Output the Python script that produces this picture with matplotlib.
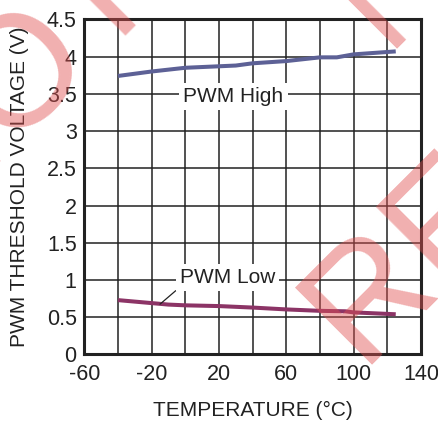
import matplotlib
matplotlib.use('Agg')
import matplotlib.pyplot as plt

plt.rcParams['font.family'] = ['Liberation Sans', 'DejaVu Sans']
plt.rcParams['axes.unicode_minus'] = False

# data
temp_high = [-40, -20, 0, 20, 30, 40, 60, 80, 90, 100, 125]
pwm_high = [3.74, 3.80, 3.85, 3.87, 3.88, 3.91, 3.94, 3.99, 3.99, 4.03, 4.07]
temp_low = [-40, -20, -10, 0, 20, 40, 60, 80, 95, 100, 125]
pwm_low = [0.73, 0.69, 0.67, 0.66, 0.65, 0.63, 0.605, 0.586, 0.58, 0.565, 0.54]

x_grid = list(range(-60, 141, 20))
x_labels = ['-60', '', '-20', '', '20', '', '60', '', '100', '', '140']
y_grid = [0, 0.5, 1, 1.5, 2, 2.5, 3, 3.5, 4, 4.5]

fig = plt.figure(figsize=(4.39, 4.21), dpi=100)
ax = fig.add_axes([0.192, 0.158, 0.767, 0.796])

ax.plot(temp_high, pwm_high, color='#5d6196', lw=2.9, solid_capstyle='butt', zorder=3)
ax.plot(temp_low, pwm_low, color='#8c3466', lw=2.9, solid_capstyle='butt', zorder=3)

ax.set_xlim(-60, 140)
ax.set_ylim(0, 4.5)
ax.set_xticks(x_grid)
ax.set_xticklabels(x_labels)
ax.set_yticks(y_grid)
ax.set_yticklabels(['%g' % v for v in y_grid])
ax.tick_params(length=0, labelsize=15.5, colors='#222222')
ax.tick_params(axis='x', pad=7)
ax.tick_params(axis='y', pad=5.5)
ax.grid(True, color='#222222', lw=1.1)
ax.set_axisbelow(True)
for s in ax.spines.values():
    s.set_linewidth(2.2)
    s.set_color('#222222')

ax.set_xlabel('TEMPERATURE (°C)', fontsize=15, color='#222222')
ax.set_ylabel('PWM THRESHOLD VOLTAGE (V)', fontsize=15, color='#222222')
ax.xaxis.set_label_coords(0.5, -0.139)
ax.yaxis.set_label_coords(-0.165, 0.5)

box = dict(facecolor='white', edgecolor='none', pad=3)
ax.text(28.6, 3.39, 'PWM High', fontsize=15, ha='center', va='baseline',
        color='#222222', bbox=box, zorder=4)
ax.annotate('PWM Low', xy=(-15, 0.676), xytext=(25.1, 0.958),
            textcoords='data', fontsize=15, ha='center', va='baseline',
            color='#222222', bbox=box, zorder=4,
            arrowprops=dict(arrowstyle='-', color='#222222', lw=0.9,
                            relpos=(0.0, 0.0), shrinkA=0, shrinkB=0))

# diagonal watermark, mostly running off the page
wm = dict(fontsize=114, rotation=45, rotation_mode='anchor', ha='left',
          va='baseline', color='#e05050', alpha=0.45, zorder=10)
fig.text(-70.1 / 439, 1 - 232.9 / 421, 'NOT RECOMMENDED FOR', **wm)
fig.text(388.2 / 439, 1 - 57.4 / 421, 'NEW DESIGNS', **wm)
fig.text(363.3 / 439, 1 - 373.7 / 421, 'RECOMMENDED REPLACEMENT', **wm)

fig.savefig('out.png', dpi=100)
